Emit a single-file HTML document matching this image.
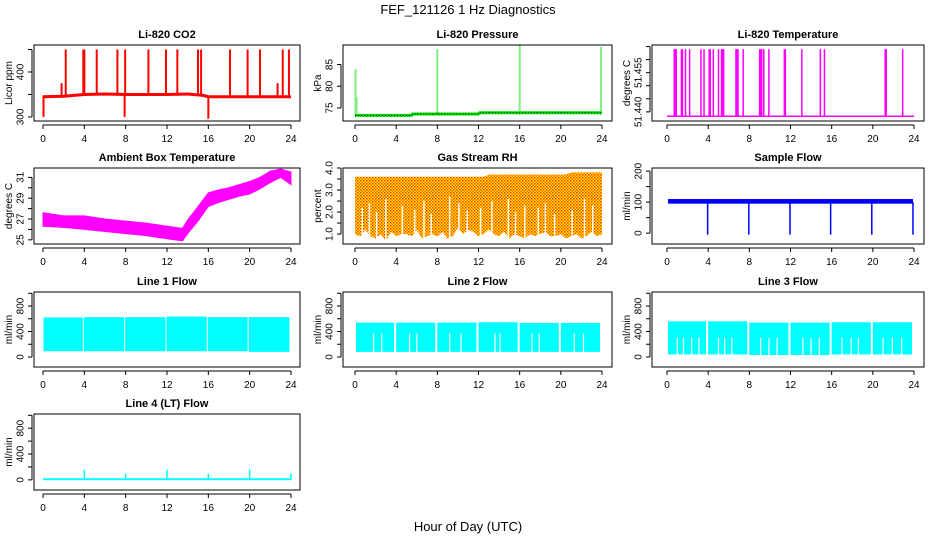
<!DOCTYPE html>
<html><head><meta charset="utf-8"><style>
html,body{margin:0;padding:0;background:#fff;}
svg{display:block;font-family:"Liberation Sans",Arial,sans-serif;}
.t{font-size:11px;font-weight:bold;text-anchor:middle;}
.tk{font-size:10px;text-anchor:middle;}
.yt{font-size:10px;text-anchor:middle;}
</style></head><body>
<svg id="chart" width="936" height="540" viewBox="0 0 936 540">
<defs>
<pattern id="rhpat" width="3" height="3" patternUnits="userSpaceOnUse">
<rect width="3" height="3" fill="#ffee00"/><rect width="1.5" height="1.5" fill="#ff3300"/><rect x="1.5" y="1.5" width="1.5" height="1.5" fill="#ff6600"/>
</pattern>
</defs>
<text x="468" y="14" font-size="13" text-anchor="middle">FEF_121126  1 Hz Diagnostics</text>
<text x="468" y="531" font-size="13" text-anchor="middle">Hour of Day (UTC)</text>
</svg>
<script>
// ---- data ----
const xTicks = [0,4,8,12,16,20,24];
const co2BaseHours = [0,2,4,6,8,10,12,14,15.5,16,18,20,22,24];
const co2BaseVals = [345,346,350,351,350,350,350,351,348,345,345,345,345,345];
const co2SpikeHours = [0.05,1.8,2.2,3.9,4.0,5.2,7.2,7.9,7.95,10.2,11.9,13.0,15.0,15.3,16.0,18.1,19.8,21.0,22.7,23.2,23.8];
const co2SpikeVals = [300,375,450,450,450,450,450,300,450,450,450,450,450,450,296,450,450,450,375,450,450];
const presBaseHours = [0,5.5,5.6,12,12.1,24];
const presBaseVals = [73.3,73.3,73.6,73.6,73.9,73.9];
const presSpikeHours = [0.05,0.15,8.0,16.0,23.9];
const presSpikeVals = [84,77.5,88.5,89.5,89];
const ltempBase = 51.4383;
const ltempSpikeHours = [0.7,0.8,0.9,1.4,1.5,1.8,2.2,3.3,3.6,4.1,4.2,4.5,5.0,5.3,5.4,5.5,6.7,6.8,6.9,7.4,9.0,9.1,9.2,9.4,9.9,11.4,11.5,13.1,14.9,15.3,21.2,21.3,22.9];
const ltempSpikeVals = [51.464,51.464,51.464,51.464,51.464,51.464,51.464,51.464,51.464,51.464,51.464,51.464,51.464,51.464,51.464,51.464,51.464,51.464,51.464,51.464,51.464,51.464,51.464,51.464,51.464,51.464,51.464,51.464,51.464,51.464,51.464,51.464,51.464];
const ambHours = [0,2,4,6,8,10,12,13.5,14,15,16,17,18,19,20,21,22,23,24];
const ambHigh = [27.6,27.3,27.3,27.0,26.8,26.6,26.3,26.1,26.9,28.2,29.5,29.8,30.0,30.3,30.6,31.0,31.6,31.8,31.5];
const ambLow = [26.3,26.2,26.0,25.8,25.6,25.4,25.1,24.9,25.6,26.8,28.2,28.6,28.9,29.2,29.4,29.9,30.5,31.0,30.3];
const rhHigh = [3.6,3.6,3.6,3.6,3.6,3.6,3.6,3.6,3.6,3.6,3.6,3.6,3.6,3.6,3.6,3.6,3.6,3.6,3.6,3.6,3.6,3.6,3.6,3.6,3.6,3.6,3.7,3.7,3.7,3.7,3.7,3.7,3.7,3.7,3.7,3.7,3.7,3.7,3.7,3.7,3.7,3.7,3.8,3.8,3.8,3.8,3.8,3.8,3.8];
const rhLow = [1.0,0.9,1.2,0.9,0.8,1.0,0.7,1.1,0.9,1.0,1.0,0.9,1.2,0.8,0.9,1.0,0.9,1.1,0.8,0.9,1.3,1.0,1.2,1.1,0.9,1.0,1.2,1.0,0.9,1.1,0.8,1.0,0.9,0.8,1.0,0.9,1.0,1.1,0.9,0.9,1.0,0.8,0.9,1.0,0.8,0.9,1.1,0.9,1.0];
const rhGapHours = [0.7,1.4,2.1,3.0,4.6,5.8,6.7,7.4,9.2,10.1,10.9,12.2,13.3,14.9,15.6,16.5,17.8,18.5,19.4,21.1,22.3,23.1];
const rhGapTops = [2.2,2.4,2.0,2.6,2.3,2.1,2.5,1.9,2.7,2.4,2.1,2.2,2.5,2.6,2.0,2.3,2.2,2.4,1.9,2.1,2.6,2.3];
const sfHigh = 110, sfLow = 95;
const sfDipHours = [3.95,7.95,11.95,15.9,19.9,23.9];
const sfDipVals = [-5,-5,-5,-5,-5,-5];
const l1SegStart = [0.05,3.95,7.95,11.95,15.95,19.9];
const l1SegEnd = [3.85,7.85,11.85,15.85,19.8,23.85];
const l1High = [620,625,625,635,625,625];
const l1Low = [90,90,90,90,90,80];
const l2SegStart = [0.1,4.0,8.0,12.0,16.0,20.0];
const l2SegEnd = [3.8,7.8,11.8,15.8,19.8,23.8];
const l2High = [540,540,540,545,535,535];
const l2Low = [80,80,80,80,80,80];
const l2GapHours = [1.8,2.6,5.3,6.0,9.2,10.3,13.6,14.1,17.2,17.9,21.3,22.2];
const l3SegStart = [0.1,4.0,8.0,12.0,16.0,20.0];
const l3SegEnd = [3.8,7.8,11.8,15.8,19.8,23.8];
const l3High = [560,560,540,540,545,545];
const l3Low = [40,40,30,30,40,40];
const l3GapHours = [1.0,1.6,2.4,3.1,5.0,5.6,6.3,9.1,9.9,10.7,13.2,14.0,14.8,17.0,17.9,18.6,21.0,21.9,22.8];
const l4Base = 15;
const l4SpikeHours = [4.0,8.0,12.0,16.0,20.0,24.0];
const l4SpikeVals = [160,100,160,100,160,100];

// ---- drawing ----
const svg = document.getElementById('chart');
const NS = 'http://www.w3.org/2000/svg';
function mk(tag, attrs, parent){
  const el = document.createElementNS(NS, tag);
  for (const k in attrs) el.setAttribute(k, attrs[k]);
  (parent||svg).appendChild(el);
  return el;
}
function panel(p){
  const g = mk('g', {});
  
  
  const x = v => p.x0 + (v/24)*(p.x24 - p.x0);
  const y = v => p.bb - (v - p.ymin)/(p.ymax - p.ymin)*(p.bb - p.bt);
  p.g = g; p.x = x; p.y = y;
  return p;
}
function axes(p){
  const g = p.g;
  const box = mk('rect', {x:p.bl, y:p.bt, width:p.br-p.bl, height:p.bb-p.bt, fill:'none', stroke:'#000', 'stroke-width':1}, g);
  
  
  mk('line', {x1:p.x(0), x2:p.x(24), y1:p.bb+4, y2:p.bb+4, stroke:'#000'}, g);
  xTicks.forEach(v => {
    mk('line', {x1:p.x(v), x2:p.x(v), y1:p.bb+4, y2:p.bb+8, stroke:'#000'}, g);
    const t = mk('text', {x:p.x(v), y:p.bb+21, class:'tk'}, g);
    t.textContent = v;
    
    
  });
  const ax = p.bl - 2;
  mk('line', {x1:ax, x2:ax, y1:p.y(p.yticks[0]), y2:p.y(p.yticks[p.yticks.length-1]), stroke:'#000'}, g);
  p.yticks.forEach(v => {
    mk('line', {x1:ax-4, x2:ax, y1:p.y(v), y2:p.y(v), stroke:'#000'}, g);
  });
  p.ylabels.forEach((lab, i) => {
    const yy = p.y(p.ylabelVals[i]);
    const t = mk('text', {x:ax-12, y:yy, class:'tk', transform:`rotate(-90 ${ax-12} ${yy})`, dy:'3.5'}, g);
    t.textContent = lab;
    
    
  });
  const cy = (p.bt+p.bb)/2, tx = ax - 23;
  const yt = mk('text', {x:tx, y:cy, class:'yt', transform:`rotate(-90 ${tx} ${cy})`, dy:'3'}, g);
  yt.textContent = p.ytitle;
  
  
  const tt = mk('text', {x:(p.bl+p.br)/2, y:p.bt-7, class:'t'}, g);
  tt.textContent = p.title;
  
  
}
const C1 = {bl:34, br:300, x0:43, x24:291};
const C2 = {bl:343, br:612, x0:355, x24:602};
const C3 = {bl:652, br:924, x0:667, x24:914};
const R1 = {bt:45, bb:121}, R2 = {bt:168, bb:244}, R3 = {bt:292, bb:367}, R4 = {bt:414, bb:490};
function poly(p, hs, vs){ return hs.map((h,i)=>`${p.x(h)},${p.y(vs[i])}`).join(' '); }

// CO2
let p = panel(Object.assign({name:'panel-co2', title:'Li-820 CO2', ytitle:'Licor ppm', ymin:291, ymax:460, yticks:[300,350,400,450], ylabels:['300','400'], ylabelVals:[300,400]}, C1, R1));
co2SpikeHours.forEach((h,i)=>{
  const l = mk('line', {x1:p.x(h), x2:p.x(h), y1:p.y(348), y2:p.y(co2SpikeVals[i]), stroke:'#ff0000', 'stroke-width':2}, p.g);
  
  
});
let e = mk('polyline', {points:poly(p, co2BaseHours, co2BaseVals), fill:'none', stroke:'#ff0000', 'stroke-width':3}, p.g);


axes(p);

// Pressure
p = panel(Object.assign({name:'panel-pressure', title:'Li-820 Pressure', ytitle:'kPa', ymin:72, ymax:89.5, yticks:[75,80,85], ylabels:['75','80','85'], ylabelVals:[75,80,85]}, C2, R1));
presSpikeHours.forEach((h,i)=>{
  const l = mk('line', {x1:p.x(h), x2:p.x(h), y1:p.y(73.5), y2:p.y(presSpikeVals[i]), stroke:'#00dd00', 'stroke-width':2, 'stroke-dasharray':'1 1'}, p.g);
  
  
});
e = mk('polyline', {points:poly(p, presBaseHours, presBaseVals), fill:'none', stroke:'#00dd00', 'stroke-width':3}, p.g);


mk('polyline', {points:poly(p, presBaseHours, presBaseVals), fill:'none', stroke:'#000', 'stroke-width':1, 'stroke-dasharray':'1 2'}, p.g);
axes(p);

// Li temperature
p = panel(Object.assign({name:'panel-li-temp', title:'Li-820 Temperature', ytitle:'degrees C', ymin:51.4365, ymax:51.4656, yticks:[51.440,51.445,51.450,51.455,51.460,51.465], ylabels:['51.440','51.455'], ylabelVals:[51.440,51.455]}, C3, R1));
ltempSpikeHours.forEach((h,i)=>{
  const l = mk('line', {x1:p.x(h), x2:p.x(h), y1:p.y(ltempBase), y2:p.y(ltempSpikeVals[i]), stroke:'#ff00ff', 'stroke-width':1.5}, p.g);
  
  
});
e = mk('line', {x1:p.x(0), x2:p.x(24), y1:p.y(ltempBase), y2:p.y(ltempBase), stroke:'#ff00ff', 'stroke-width':1.5}, p.g);


axes(p);

// Ambient
p = panel(Object.assign({name:'panel-ambient-temp', title:'Ambient Box Temperature', ytitle:'degrees C', ymin:24.6, ymax:31.9, yticks:[25,26,27,28,29,30,31], ylabels:['25','27','29','31'], ylabelVals:[25,27,29,31]}, C1, R2));
e = mk('polygon', {points:poly(p, ambHours, ambHigh)+' '+poly(p, ambHours.slice().reverse(), ambLow.slice().reverse()), fill:'#ff00ff', stroke:'#ff00ff', 'stroke-width':1}, p.g);


axes(p);

// RH
p = panel(Object.assign({name:'panel-rh', title:'Gas Stream RH', ytitle:'percent', ymin:0.55, ymax:4.0, yticks:[1.0,1.5,2.0,2.5,3.0,3.5,4.0], ylabels:['1.0','2.0','3.0','4.0'], ylabelVals:[1.0,2.0,3.0,4.0]}, C2, R2));
const rhH = rhHigh.map((v,i)=>i*0.5);
e = mk('polygon', {points:poly(p, rhH, rhHigh)+' '+poly(p, rhH.slice().reverse(), rhLow.slice().reverse()), fill:'url(#rhpat)'}, p.g);


rhGapHours.forEach((h,i)=>{
  const l = mk('line', {x1:p.x(h), x2:p.x(h), y1:p.y(0.6), y2:p.y(rhGapTops[i]), stroke:'#fff', 'stroke-width':1.5}, p.g);
  
  
});
axes(p);

// Sample flow
p = panel(Object.assign({name:'panel-sample-flow', title:'Sample Flow', ytitle:'ml/min', ymin:-35, ymax:210, yticks:[0,50,100,150,200], ylabels:['0','100','200'], ylabelVals:[0,100,200]}, C3, R2));
e = mk('rect', {x:p.x(0.1), y:p.y(sfHigh), width:p.x(23.9)-p.x(0.1), height:p.y(sfLow)-p.y(sfHigh), fill:'#0000ff'}, p.g);


sfDipHours.forEach((h,i)=>{
  const l = mk('line', {x1:p.x(h), x2:p.x(h), y1:p.y(100), y2:p.y(sfDipVals[i]), stroke:'#0000ff', 'stroke-width':1.5}, p.g);
  
  
});
axes(p);

function flowPanel(name, title, C, R, starts, ends, highs, lows, gaps, gapTop){
  const q = panel(Object.assign({name:name, title:title, ytitle:'ml/min', ymin:-157, ymax:1020, yticks:[0,200,400,600,800,1000], ylabels:['0','400','800'], ylabelVals:[0,400,800]}, C, R));
  starts.forEach((s,i)=>{
    const r = mk('rect', {x:q.x(s), y:q.y(highs[i]), width:q.x(ends[i])-q.x(s), height:q.y(lows[i])-q.y(highs[i]), fill:'#00ffff'}, q.g);
    
    
  });
  gaps.forEach(h=>{
    const l = mk('line', {x1:q.x(h), x2:q.x(h), y1:q.y(0), y2:q.y(gapTop), stroke:'#fff', 'stroke-width':1.2}, q.g);
    
    
  });
  axes(q);
}
flowPanel('panel-line1-flow', 'Line 1 Flow', C1, R3, l1SegStart, l1SegEnd, l1High, l1Low, [], 0);
flowPanel('panel-line2-flow', 'Line 2 Flow', C2, R3, l2SegStart, l2SegEnd, l2High, l2Low, l2GapHours, 370);
flowPanel('panel-line3-flow', 'Line 3 Flow', C3, R3, l3SegStart, l3SegEnd, l3High, l3Low, l3GapHours, 300);

// Line 4
p = panel(Object.assign({name:'panel-line4-flow', title:'Line 4 (LT) Flow', ytitle:'ml/min', ymin:-157, ymax:1020, yticks:[0,200,400,600,800,1000], ylabels:['0','400','800'], ylabelVals:[0,400,800]}, C1, R4));
e = mk('rect', {x:p.x(0), y:p.y(l4Base+10), width:p.x(24)-p.x(0), height:p.y(-5)-p.y(l4Base+10), fill:'#00ffff'}, p.g);


l4SpikeHours.forEach((h,i)=>{
  const l = mk('line', {x1:p.x(h), x2:p.x(h), y1:p.y(0), y2:p.y(l4SpikeVals[i]), stroke:'#00ffff', 'stroke-width':1.5}, p.g);
  
  
});
axes(p);
</script>
</body></html>
